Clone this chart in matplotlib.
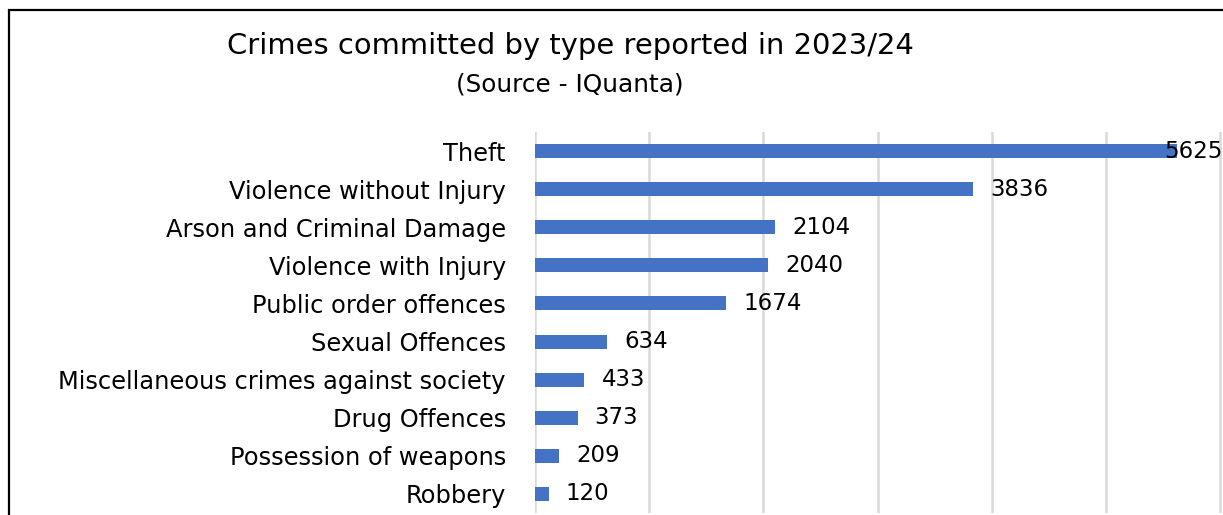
import matplotlib
matplotlib.use("Agg")
import matplotlib.pyplot as plt
from matplotlib.patches import Rectangle

categories = ["Theft", "Violence without Injury", "Arson and Criminal Damage",
              "Violence with Injury", "Public order offences", "Sexual Offences",
              "Miscellaneous crimes against society", "Drug Offences",
              "Possession of weapons", "Robbery"]
counts = [5625, 3836, 2104, 2040, 1674, 634, 433, 373, 209, 120]

plt.rcParams['font.family'] = ['DejaVu Sans']

W, H = 1223, 515
fig = plt.figure(figsize=(W / 100, H / 100), dpi=100)

# outer frame (cropped at right/bottom)
fig.patches.append(Rectangle((9 / W, -0.1), 1.2, (H - 10) / H + 0.1,
                             transform=fig.transFigure, fill=False,
                             edgecolor='black', linewidth=1.6))

ax = fig.add_axes([535 / W, 2 / H, (W - 535) / W, (513 - 132) / H])
y = list(range(len(categories)))[::-1]
ax.barh(y, counts, height=0.37, color='#4472C4', zorder=3)

xmax = 6026
ax.set_xlim(0, xmax)
ax.set_ylim(-0.5, len(categories) - 0.5)
ax.set_xticks(range(0, 7000, 1000))
ax.grid(axis='x', color='#D9D9D9', linewidth=1.8, zorder=0)
ax.tick_params(axis='x', length=0, labelbottom=False)
ax.tick_params(axis='y', length=0, pad=21, labelsize=17.4)
ax.set_yticks(y)
ax.set_yticklabels(categories)
for s in ax.spines.values():
    s.set_visible(False)

for yi, v in zip(y, counts):
    if v + 160 + 500 > xmax:
        ax.text(xmax, yi, str(v), ha='right', va='center', fontsize=16.5, zorder=4)
    else:
        ax.text(v + 150, yi, str(v), ha='left', va='center', fontsize=16.5, zorder=4)

fig.text(570 / W, 1 - 46 / H, "Crimes committed by type reported in 2023/24",
         ha='center', va='center', fontsize=20.9)
fig.text(570 / W, 1 - 84 / H, "(Source - IQuanta)",
         ha='center', va='center', fontsize=17.8)

fig.savefig("out.png", dpi=100)
